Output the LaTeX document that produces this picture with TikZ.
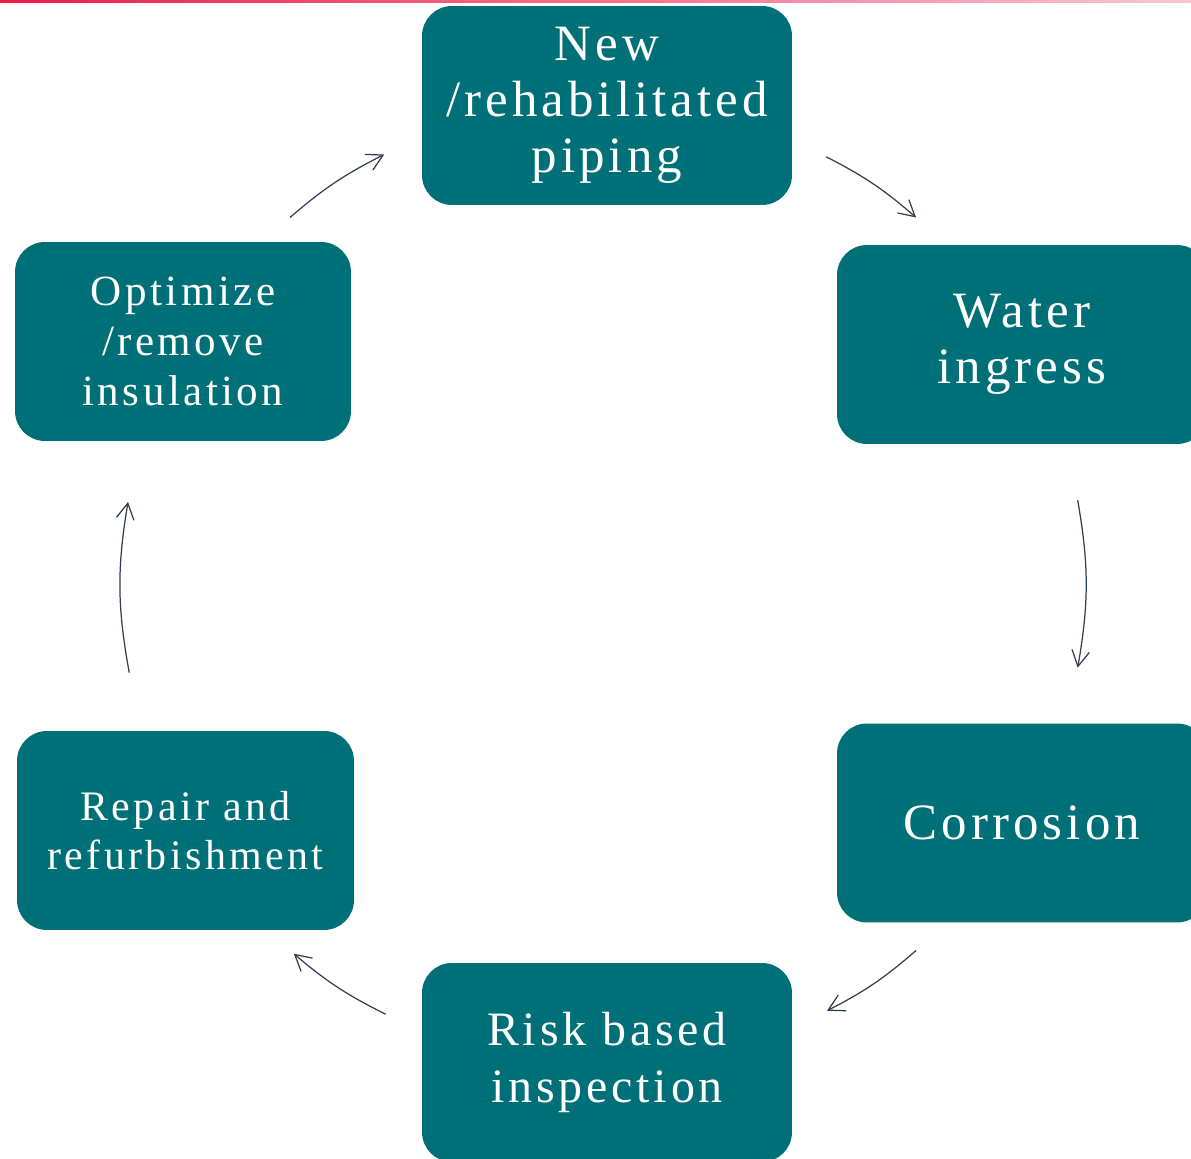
\documentclass[tikz,border=0pt]{standalone}
\usepackage{fontspec}
\setmainfont{Liberation Serif}[LetterSpace=8]
\usepackage{tikz}
\usetikzlibrary{
    arrows.meta
}
\definecolor{cycleteal}{HTML}{007078}
\definecolor{cyclearrow}{HTML}{2F3F50}
\definecolor{topred}{HTML}{EE1B47}
\definecolor{toppink}{HTML}{F9C6D2}
\tikzset{
    >={Straight Barb[length=9pt,width=10pt]},
    phase/.style={
        rectangle,
        rounded corners=17pt,
        fill=cycleteal,
        text=white,
        align=center,
        minimum width=7.4cm,
        minimum height=3.98cm,
        inner sep=0pt
    },
    flow/.style={
        ->,
        draw=cyclearrow,
        line width=0.7pt
    }
}

\begin{document}
\begin{tikzpicture}[
    x=0.02cm,
    y=0.02cm
]
    \useasboundingbox (0,0) rectangle (1191,1159);
    \clip (0,0) rectangle (1191,1159);

    % Linea superior
    \shade[left color=topred, middle color=topred!75!toppink, right color=toppink]
        (0,1156) rectangle (1191,1159);

    % Fases
    \node[phase, font=\fontsize{29}{31.9}\selectfont]
        (piping) at (607,1053.5) {New\\/rehabilitated\\piping};
    \node[phase, font=\fontsize{29}{31.6}\selectfont]
        (water) at (1022,814.5) {Water\\ingress};
    \node[phase, font=\fontsize{29}{32}\selectfont]
        (corrosion) at (1022,336) {Corrosion};
    \node[phase, font=\fontsize{27.3}{32.4}\selectfont]
        (rbi) at (607,96.5) {Risk based\\inspection};
    \node[phase, minimum width=6.74cm, font=\fontsize{23.9}{27.9}\selectfont]
        (repair) at (185.5,328.5) {Repair and\\refurbishment};
    \node[phase, minimum width=6.72cm, font=\fontsize{24.5}{28.5}\selectfont]
        (optimize) at (183,817.5) {Optimize\\/remove\\insulation};

    % Puntos del ciclo
    \coordinate (hub) at (603,575);
    \coordinate (c1s) at ([shift={(130.5:482)}]hub);
    \coordinate (c1e) at ([shift={(117:482)}]hub);
    \coordinate (c2s) at ([shift={(62.4:482)}]hub);
    \coordinate (c2e) at ([shift={(49.5:482)}]hub);
    \coordinate (c3s) at ([shift={(10:482)}]hub);
    \coordinate (c3e) at ([shift={(-10:482)}]hub);
    \coordinate (c4s) at ([shift={(-49.5:482)}]hub);
    \coordinate (c4e) at ([shift={(-62.3:482)}]hub);
    \coordinate (c5s) at ([shift={(-116.8:482)}]hub);
    \coordinate (c5e) at ([shift={(-129.9:482)}]hub);
    \coordinate (c6s) at ([shift={(190.6:482)}]hub);
    \coordinate (c6e) at ([shift={(170.2:482)}]hub);

    % Flechas
    \draw[flow] (c1s) to[bend left=7] (c1e);
    \draw[flow] (c2s) to[bend left=7] (c2e);
    \draw[flow] (c3s) to[bend left=10] (c3e);
    \draw[flow] (c4s) to[bend left=7] (c4e);
    \draw[flow] (c5s) to[bend left=7] (c5e);
    \draw[flow] (c6s) to[bend left=10] (c6e);

\end{tikzpicture}
\end{document}
